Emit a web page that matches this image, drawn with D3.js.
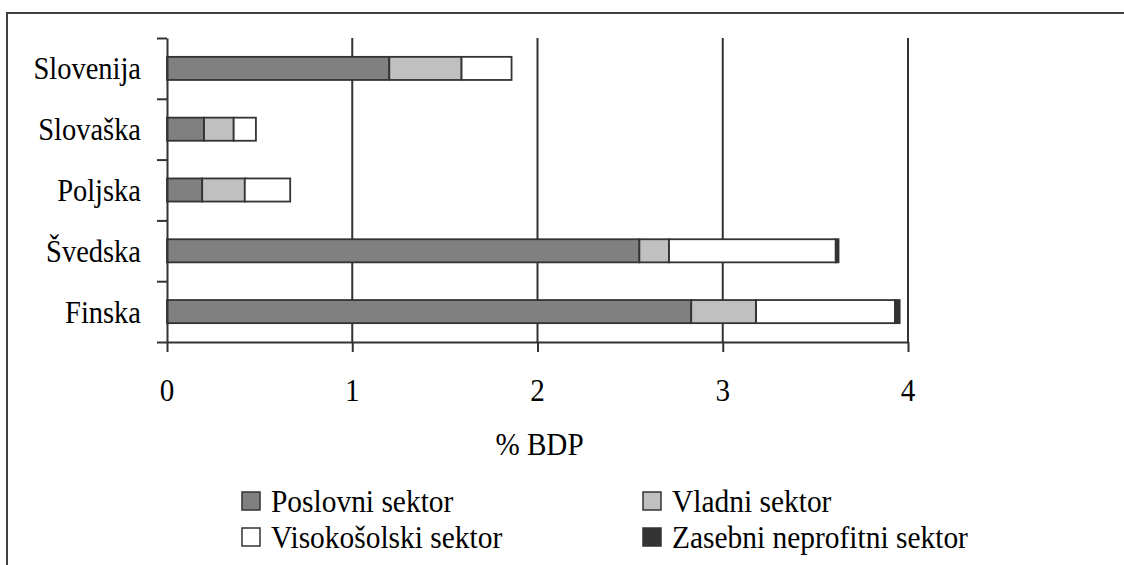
<!DOCTYPE html>
<html><head><meta charset="utf-8">
<script src="https://cdn.jsdelivr.net/npm/d3@7"></script>
<style>body{margin:0;background:#fff}svg{display:block}</style>
</head><body>
<script>
const categories = ["Slovenija","Slovaška","Poljska","Švedska","Finska"];
const poslovni = [1.20, 0.20, 0.19, 2.55, 2.83];
const vladni = [0.39, 0.16, 0.23, 0.16, 0.35];
const visokosolski = [0.27, 0.12, 0.245, 0.90, 0.75];
const zasebni = [0.00, 0.00, 0.00, 0.015, 0.025];
const seriesNames = ["Poslovni sektor","Vladni sektor","Visokošolski sektor","Zasebni neprofitni sektor"];
const seriesColors = ["#808080","#c0c0c0","#ffffff","#333333"];
const xTicks = [0,1,2,3,4];
const xTitle = "% BDP";

const W=1124,H=565;
const FONT="'Liberation Serif','Times New Roman',serif";
const svg=d3.select("body").append("svg").attr("width",W).attr("height",H);
svg.append("rect").attr("x",7).attr("y",13).attr("width",W+20).attr("height",H+20)
  .attr("fill","none").attr("stroke","#404040").attr("stroke-width",2);

const x=d3.scaleLinear().domain([0,4]).range([167,908]);
const y=d3.scaleBand().domain(categories).range([38,342]);
const yb=d3.scaleLinear().domain([0,categories.length]).range([38,342]);

// gridlines
svg.append("g").selectAll("line").data(xTicks.slice(1)).join("line")
  .attr("x1",d=>x(d)).attr("x2",d=>x(d)).attr("y1",38).attr("y2",342)
  .attr("stroke","#333").attr("stroke-width",2);

// stack
const rows=categories.map((c,i)=>({cat:c,s0:poslovni[i],s1:vladni[i],s2:visokosolski[i],s3:zasebni[i]}));
const stack=d3.stack().keys(["s0","s1","s2","s3"])(rows);
const bh=y.bandwidth()*0.38;
svg.append("g").selectAll("g").data(stack).join("g")
  .attr("fill",(d,i)=>seriesColors[i])
  .selectAll("rect").data(d=>d.filter(p=>p[1]-p[0]>0)).join("rect")
  .attr("x",d=>x(d[0])).attr("width",d=>x(d[1])-x(d[0]))
  .attr("y",d=>y(d.data.cat)+y.bandwidth()/2-bh/2).attr("height",bh)
  .attr("stroke","#333").attr("stroke-width",1.8);

// y axis
const ya=svg.append("g").attr("transform","translate(167,0)")
  .call(d3.axisLeft(yb).tickValues(d3.range(categories.length+1)).tickSize(10).tickSizeOuter(0).tickFormat(""));
ya.selectAll("line,path").attr("stroke","#333").attr("stroke-width",2);
// x axis
const xa=svg.append("g").attr("transform","translate(0,342)")
  .call(d3.axisBottom(x).tickValues(xTicks).tickSize(10).tickSizeOuter(0).tickFormat(""));
xa.selectAll("line,path").attr("stroke","#333").attr("stroke-width",2);

function txt(g,s,tx,ty,size,anchor,sx){
  return g.append("text").attr("transform",`translate(${tx},${ty}) scale(${sx},1)`)
    .attr("font-family",FONT).attr("fill","#000")
    .attr("font-size",size).attr("text-anchor",anchor||"start").text(s);
}
categories.forEach(c=>txt(svg,c,141,y(c)+y.bandwidth()/2+11,32,"end",0.89));
xTicks.forEach(t=>txt(svg,String(t),x(t),401,31,"middle",0.94));
txt(svg,xTitle,(x(0)+x(4))/2+2,455,31,"middle",0.94);

// legend
const legPos=[[242,492],[643,492],[242,528],[643,528]];
seriesNames.forEach((n,i)=>{
  const [lx,ly]=legPos[i];
  svg.append("rect").attr("x",lx).attr("y",ly).attr("width",18).attr("height",18)
    .attr("fill",seriesColors[i]).attr("stroke","#333").attr("stroke-width",1.5);
  txt(svg,n,lx+29,ly+20,31,"start",0.95);
});
</script>
</body></html>
